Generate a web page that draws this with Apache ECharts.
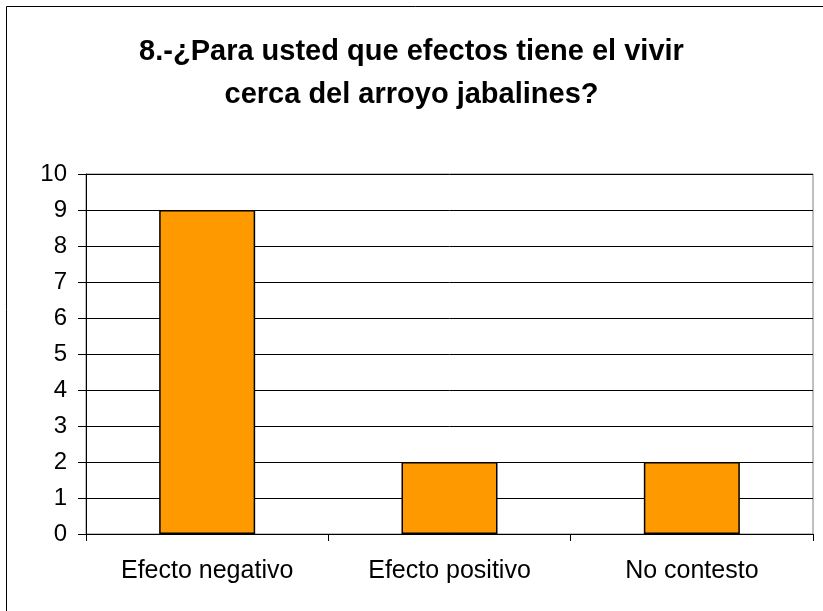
<!DOCTYPE html>
<html><head><meta charset="utf-8">
<script src="https://cdn.jsdelivr.net/npm/echarts@6/dist/echarts.min.js"></script>
<style>html,body{margin:0;padding:0;background:#fff}#c{width:823px;height:611px}</style>
</head><body><div id="c"></div>
<script>
const titleText = "8.-¿Para usted que efectos tiene el vivir\ncerca del arroyo jabalines?";
const categories = ["Efecto negativo", "Efecto positivo", "No contesto"];
const values = [9, 2, 2];
const yTicks = [0,1,2,3,4,5,6,7,8,9,10];

const chart = echarts.init(document.getElementById('c'), null, {renderer:'canvas'});
chart.setOption({
  animation:false,
  backgroundColor:'#fff',
  title:{
    text:titleText, left:'center', top:25,
    textStyle:{fontFamily:'Liberation Sans', fontSize:29, fontWeight:'bold', color:'#000', lineHeight:43}
  },
  graphic:[
    {type:'rect', shape:{x:6.5,y:6.5,width:830,height:630}, style:{fill:null, stroke:'#000', lineWidth:1}, z:-1}
  ],
  grid:{left:86, right:10, top:174, bottom:77, show:true, borderColor:'#808080', borderWidth:1, backgroundColor:'transparent'},
  xAxis:{
    type:'category', data:categories,
    axisLine:{lineStyle:{color:'#000', width:1}},
    axisTick:{show:true, alignWithLabel:false, length:7, lineStyle:{color:'#000'}},
    axisLabel:{fontFamily:'Liberation Sans', fontSize:25, color:'#000', margin:25}
  },
  yAxis:{
    type:'value', min:0, max:10, interval:1,
    axisLine:{show:true, lineStyle:{color:'#000', width:1}},
    axisTick:{show:true, length:8, lineStyle:{color:'#000'}},
    axisLabel:{fontFamily:'Liberation Sans', fontSize:24, color:'#000', margin:19,
      formatter:v=>yTicks.includes(v)?String(v):''},
    splitLine:{show:true, lineStyle:{color:'#000', width:1}}
  },
  series:[{
    type:'bar', data:values, barWidth:96,
    itemStyle:{color:'#FF9900', borderColor:'#000', borderWidth:1.5}
  }]
});
</script></body></html>
